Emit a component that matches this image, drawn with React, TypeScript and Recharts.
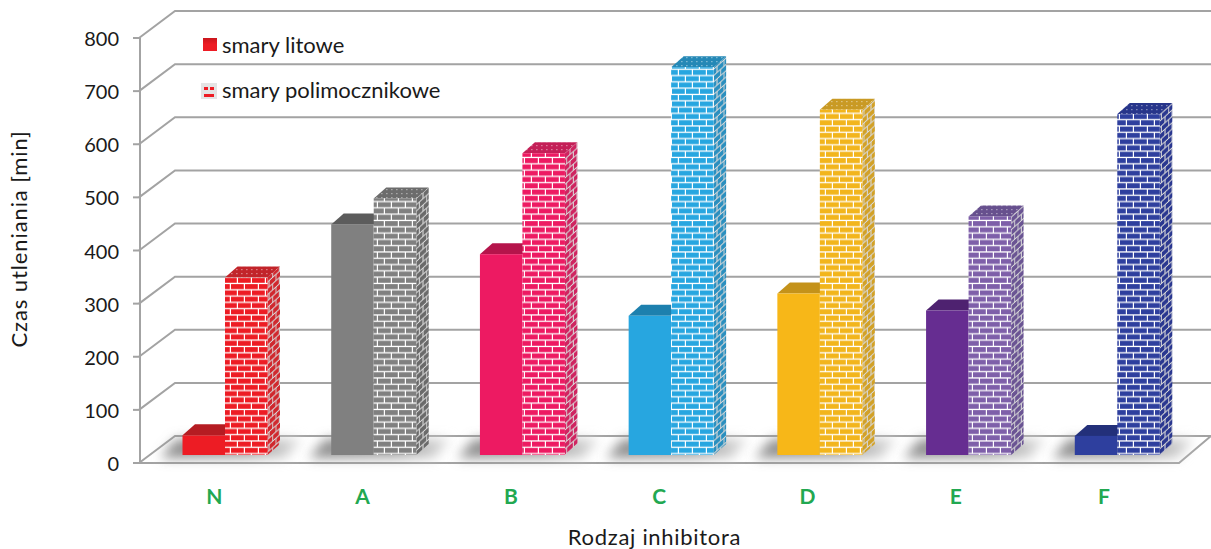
import { Bar, BarChart, CartesianGrid, Legend, XAxis, YAxis } from "recharts";

const categories = ["N", "A", "B", "C", "D", "E", "F"];
const litowe = [37, 434, 378, 262, 304, 272, 36];
const polimocznikowe = [334, 483, 568, 730, 650, 449, 642];
const yTicks = [0, 100, 200, 300, 400, 500, 600, 700, 800];

const solidColors = ["#ed1c24", "#808080", "#ed1a62", "#27a6e0", "#f7b718", "#662d91", "#2e3f9e"];
const solidTopColors = ["#b51c22", "#5c5c5c", "#b5144b", "#1d80ae", "#c4921a", "#4e2270", "#23307a"];
const brickColors = ["#ed1c24", "#808080", "#ed1a62", "#27a6e0", "#f2b51c", "#7e5fa9", "#2e3f9e"];
const brickTopColors = ["#c2242a", "#6c6c6c", "#c41f57", "#2488b6", "#c99a24", "#67508e", "#27358a"];
const brickSideColors = ["#d0282e", "#6a6a6a", "#cf2460", "#2a8fbf", "#d2a127", "#6a5493", "#2a3790"];

const data = categories.map((name, i) => ({
  name,
  litowe: litowe[i],
  polimocznikowe: polimocznikowe[i],
}));

const FONT = "Lato, Carlito, sans-serif";
const GRID = "#a3a3a3";
const INK = "#1a1a1a";
const DEPTH_X = 12.5;
const DEPTH_Y = 11;
const SHIFT_X = 10.5;
const SHIFT_Y = -8;

function Patterns() {
  return (
    <defs>
      <filter id="floorShadow" x="-30%" y="-80%" width="160%" height="260%">
        <feGaussianBlur stdDeviation="6" />
      </filter>
      <linearGradient id="shadowFade" x1="0" y1="0" x2="1" y2="0">
        <stop offset="0%" stopColor="#8c8c8c" />
        <stop offset="60%" stopColor="#a0a0a0" />
        <stop offset="100%" stopColor="#dedede" />
      </linearGradient>
      <linearGradient id="legendRed" x1="0" y1="0" x2="0" y2="1">
        <stop offset="0%" stopColor="#c9161c" />
        <stop offset="50%" stopColor="#ed1c24" />
        <stop offset="100%" stopColor="#ed1c24" />
      </linearGradient>
      {brickColors.map((c, i) => (
        <g key={c}>
          <pattern id={`brick-${i}`} width="28" height="12.6" patternUnits="userSpaceOnUse">
            <rect width="28" height="12.6" fill="#fff" />
            <rect x="0" y="0.6" width="12.8" height="5" fill={c} />
            <rect x="14" y="0.6" width="12.8" height="5" fill={c} />
            <rect x="-7" y="6.9" width="12.8" height="5" fill={c} />
            <rect x="7" y="6.9" width="12.8" height="5" fill={c} />
            <rect x="21" y="6.9" width="12.8" height="5" fill={c} />
          </pattern>
          <pattern
            id={`side-${i}`}
            width="14"
            height="12.6"
            patternUnits="userSpaceOnUse"
            patternTransform="skewY(-42)"
          >
            <rect width="14" height="12.6" fill="#d8d8d8" />
            <rect x="0" y="0.6" width="6" height="5" fill={brickSideColors[i]} />
            <rect x="7" y="0.6" width="6" height="5" fill={brickSideColors[i]} />
            <rect x="-3.5" y="6.9" width="6" height="5" fill={brickSideColors[i]} />
            <rect x="3.5" y="6.9" width="6" height="5" fill={brickSideColors[i]} />
            <rect x="10.5" y="6.9" width="6" height="5" fill={brickSideColors[i]} />
          </pattern>
          <pattern id={`top-${i}`} width="5" height="4" patternUnits="userSpaceOnUse">
            <rect width="5" height="4" fill={brickTopColors[i]} />
            <rect x="1" y="1" width="1.6" height="1.2" fill="#fff" opacity="0.4" />
          </pattern>
        </g>
      ))}
    </defs>
  );
}

// Blurred floor shadow, drawn with the solid series so it sits under both bars
function FloorShadow({ x, base, w }: { x: number; base: number; w: number }) {
  const pts = [
    [x - 22, base + 3],
    [x - 6, base - 16],
    [x + 2 * w + 34, base - 16],
    [x + 2 * w + 18, base + 3],
  ];
  return <polygon points={pts.map((p) => p.join(",")).join(" ")} fill="url(#shadowFade)" filter="url(#floorShadow)" />;
}

function SolidBar(props: any) {
  const { x, y, width, height, index } = props;
  const left = x + SHIFT_X;
  const top = y + SHIFT_Y;
  const right = left + width;
  const base = top + height;
  return (
    <g>
      <FloorShadow x={left} base={base} w={width} />
      <polygon
        points={`${left},${top} ${left + DEPTH_X},${top - DEPTH_Y} ${right + DEPTH_X},${top - DEPTH_Y} ${right},${top}`}
        fill={solidTopColors[index]}
      />
      <rect x={left} y={top} width={width} height={height} fill={solidColors[index]} />
    </g>
  );
}

function BrickBar(props: any) {
  const { x, y, width, height, index } = props;
  const left = x + SHIFT_X;
  const top = y + SHIFT_Y;
  const right = left + width;
  const base = top + height;
  return (
    <g>
      <polygon
        points={`${right},${top} ${right + DEPTH_X},${top - DEPTH_Y} ${right + DEPTH_X},${base - DEPTH_Y} ${right},${base}`}
        fill={`url(#side-${index})`}
      />
      <polygon
        points={`${left},${top} ${left + DEPTH_X},${top - DEPTH_Y} ${right + DEPTH_X},${top - DEPTH_Y} ${right},${top}`}
        fill={`url(#top-${index})`}
      />
      <rect x={left} y={top} width={width} height={height} fill={`url(#brick-${index})`} />
    </g>
  );
}

// Gridline bent back along the side wall, then across the back wall
function ElbowLine(props: any) {
  const { x1, x2, y1 } = props;
  const isFloor = y1 > 460;
  return (
    <g fill="none" stroke={GRID} strokeWidth={2}>
      <path d={`M${x1 - 1},${y1} L${x1 + 35},${y1 - 27} L1211,${y1 - 27}`} />
      {isFloor && <path d={`M${x1 - 1},${y1} L${x2 - 2},${y1} L1211,${y1 - 27}`} />}
    </g>
  );
}

// Category labels run on the front edge, slightly tighter than the bars behind them
function CategoryTick(props: any) {
  const { x, y, index, payload } = props;
  return (
    <text
      x={x - index * 0.45}
      y={y}
      dy={14}
      textAnchor="middle"
      fill="#22a851"
      fontSize={21}
      fontWeight={700}
      fontFamily={FONT}
    >
      {payload.value}
    </text>
  );
}

function LegendBox() {
  const rowStyle = {
    position: "absolute" as const,
    left: 222,
    color: INK,
    fontSize: 22,
    fontFamily: FONT,
    lineHeight: "24px",
    whiteSpace: "nowrap" as const,
  };
  return (
    <div style={{ position: "absolute", left: 0, top: 0, width: 480, height: 110 }}>
      <svg width={240} height={110} style={{ position: "absolute", left: 0, top: 0 }}>
        <rect x={203} y={38} width={14} height={13} fill="url(#legendRed)" />
        <rect x={201} y={83} width={16} height={16} fill="#e4e4e4" />
        <rect x={204} y={87} width={4} height={3} fill="#ed1c24" />
        <rect x={210} y={87} width={4} height={3} fill="#ed1c24" />
        <rect x={204} y={94} width={10} height={3} fill="#ed1c24" />
      </svg>
      <div style={{ ...rowStyle, top: 33 }}>smary litowe</div>
      <div style={{ ...rowStyle, top: 78 }}>smary polimocznikowe</div>
    </div>
  );
}

export default function App() {
  return (
    <div style={{ position: "absolute", left: 0, top: 0, width: 1211, height: 549, overflow: "hidden", background: "#fff" }}>
      <BarChart
        width={1211}
        height={549}
        data={data}
        margin={{ top: 38, right: 30, bottom: 0, left: 0 }}
        barSize={42.5}
        barGap={0}
      >
        <Patterns />
        <CartesianGrid vertical={false} horizontal={ElbowLine} syncWithTicks />
        <XAxis
          dataKey="name"
          height={86}
          axisLine={false}
          tickLine={false}
          interval={0}
          tickMargin={21}
          tick={CategoryTick}
          label={{ value: "Rodzaj inhibitora", position: "insideBottom", offset: 4, fill: INK, fontSize: 22, letterSpacing: 0.7, fontFamily: FONT, dx: -6 }}
        />
        <YAxis
          width={140}
          domain={[0, 800]}
          ticks={yTicks}
          axisLine={{ stroke: GRID, strokeWidth: 2 }}
          tickLine={{ stroke: GRID, strokeWidth: 2 }}
          tickSize={7}
          tickMargin={14}
          interval={0}
          tick={{ fill: INK, fontSize: 20, fontFamily: FONT, dy: 1 }}
          label={{ value: "Czas utleniania [min]", angle: -90, position: "insideLeft", fill: INK, fontSize: 22, letterSpacing: 0.9, fontFamily: FONT, dx: 14, dy: 97 }}
        />
        <Legend content={<LegendBox />} wrapperStyle={{ left: 0, top: 0, width: 0, height: 0 }} />
        <Bar dataKey="litowe" isAnimationActive={false} shape={SolidBar} />
        <Bar dataKey="polimocznikowe" isAnimationActive={false} shape={BrickBar} />
      </BarChart>
    </div>
  );
}
